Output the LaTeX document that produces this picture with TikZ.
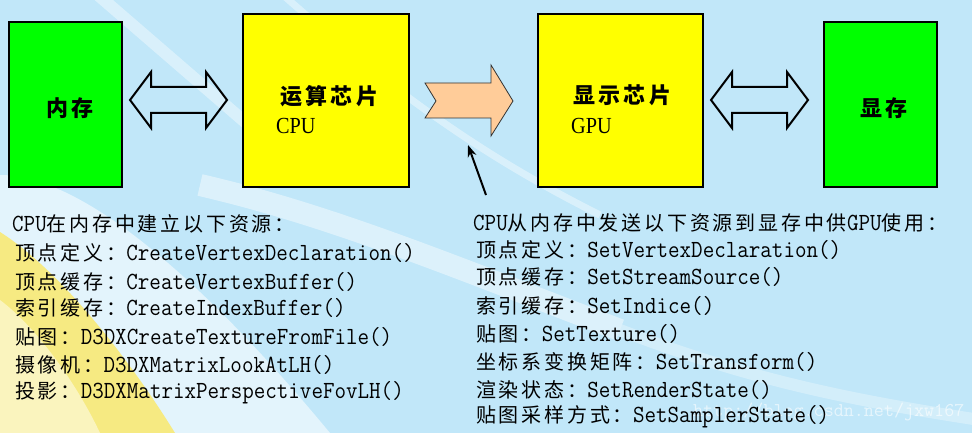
\documentclass[tikz,border=0pt]{standalone}
\usepackage{fontspec}
\usepackage{graphicx}
\newfontfamily\cjkbox{Noto Sans CJK SC}[LetterSpace=15]
\newfontfamily\cjkline{Noto Sans CJK SC}[LetterSpace=14]
\newfontfamily\latserif{Liberation Serif}
\usetikzlibrary{calc,arrows.meta}
\definecolor{bgblue}{RGB}{193,231,249}
\definecolor{boxgreen}{RGB}{0,255,0}
\definecolor{boxyellow}{RGB}{255,255,0}
\definecolor{peach}{RGB}{255,204,153}
\definecolor{bandyellow}{RGB}{246,234,130}
\definecolor{paleyellow}{RGB}{250,244,190}
\newcommand\Cj[1]{{\cjkline\fontsize{20}{24}\selectfont #1}}
\newcommand\Mo[1]{\scalebox{1}[1.1]{\ttfamily\fontsize{22.4}{26}\selectfont #1}}
\newcommand\Bx[1]{{\cjkbox\bfseries\fontsize{22}{26}\selectfont #1}}
\newcommand\La[1]{\scalebox{0.88}[1]{\latserif\fontsize{23}{26}\selectfont #1}}
\begin{document}
\begin{tikzpicture}[x=1pt,y=-1pt,
  chip/.style={draw=black, line width=1.2pt, inner sep=0pt, fill=#1},
  lbl/.style={anchor=west, inner sep=0pt, text=black},
  dbl/.style={draw=black, line width=2pt, line join=miter},
  flow/.style={draw=black!80, line width=0.8pt, fill=peach, line join=miter},
  ptr/.style={draw=black, line width=2pt, -{Stealth[length=12pt,width=9pt]}},
  ln/.style={anchor=west, inner sep=0pt, text=black},
  wmark/.style={anchor=west, inner sep=0pt, text=white, text opacity=0.6}]
\useasboundingbox (0,0) rectangle (972,433);
% background
\fill[bgblue] (0,0) rectangle (972,433);
\draw[white, opacity=0.4, line width=12pt] (98,-5) -- (260,135);
\draw[white, opacity=0.4, line width=7pt] (283,-5) .. controls (380,80) and (470,150) .. (600,215);
\fill[white, opacity=0.55] (0,175) .. controls (90,175) and (220,300) .. (330,433) -- (0,433) -- cycle;
\draw[white, opacity=0.45, line width=22pt] (200,185) .. controls (330,215) and (450,265) .. (620,330);
\draw[white, opacity=0.3, line width=12pt] (620,330) .. controls (750,380) and (850,400) .. (980,420);
\fill[bandyellow] (0,232) .. controls (60,270) and (130,360) .. (175,433) -- (0,433) -- cycle;
\fill[paleyellow] (0,300) .. controls (40,330) and (80,390) .. (100,433) -- (0,433) -- cycle;

% boxes
\node[chip=boxgreen, minimum width=113pt, minimum height=165pt] (mem) at (65.5,104.5) {};
\node[chip=boxyellow, minimum width=166pt, minimum height=173pt] (cpu) at (326,100.5) {};
\node[chip=boxyellow, minimum width=165pt, minimum height=173pt] (gpu) at (620.5,100.5) {};
\node[chip=boxgreen, minimum width=113pt, minimum height=165pt] (vmem) at (880.5,104.5) {};

\node[lbl] (memlbl) at (46,108) {\Bx{内存}};
\node[lbl] (cpulbl) at (280,96) {\Bx{运算芯片}};
\node[lbl] (cpuen) at (276,126) {\La{CPU}};
\node[lbl] (gpulbl) at (573,95) {\Bx{显示芯片}};
\node[lbl] (gpuen) at (571,126) {\La{GPU}};
\node[lbl] (vmemlbl) at (860,108) {\Bx{显存}};

% double arrows
\coordinate (da1) at (178.5,100);
\coordinate (da2) at (759.5,100);
\foreach \c in {da1,da2}{
  \draw[dbl] ($(\c)+(-48.5,0)$) -- ++(21,-28) -- ++(0,15) -- ++(55,0) -- ++(0,-15)
    -- ++(21,28) -- ++(-21,28) -- ++(0,-15) -- ++(-55,0) -- ++(0,15) -- cycle;
}
% transfer arrow
\coordinate (oa) at (469,101);
\draw[flow] ($(oa)+(-44,-18)$) -- ++(66,0) -- ++(0,-18) -- ++(22,36) -- ++(-22,35)
  -- ++(0,-18) -- ++(-66,0) -- ++(11,-17) -- cycle;
% pointer
\coordinate (ptail) at (486,195);
\coordinate (ptip) at (468,145);
\draw[ptr] (ptail) -- (ptip);

% watermark
\node[wmark] (wm) at (693,412) {\ttfamily\fontsize{19.5}{22}\selectfont http://blog.csdn.net/jxw167};

% left list
\node[ln] (l0) at (12,224) {\Mo{CPU}\Cj{在内存中建立以下资源：}};
\node[ln] (l1) at (15,253) {\Cj{顶点定义：}\Mo{CreateVertexDeclaration()}};
\node[ln] (l2) at (15,282) {\Cj{顶点缓存：}\Mo{CreateVertexBuffer()}};
\node[ln] (l3) at (15,308) {\Cj{索引缓存：}\Mo{CreateIndexBuffer()}};
\node[ln] (l4) at (15,337) {\Cj{贴图：}\Mo{D3DXCreateTextureFromFile()}};
\node[ln] (l5) at (15,365) {\Cj{摄像机：}\Mo{D3DXMatrixLookAtLH()}};
\node[ln] (l6) at (15,393) {\Cj{投影：}\Mo{D3DXMatrixPerspectiveFovLH()}};

% right list
\node[ln] (r0) at (473,223) {\Mo{CPU}\Cj{从内存中发送以下资源到显存中供}\Mo{GPU}\Cj{使用：}};
\node[ln] (r1) at (476,250) {\Cj{顶点定义：}\Mo{SetVertexDeclaration()}};
\node[ln] (r2) at (476,277) {\Cj{顶点缓存：}\Mo{SetStreamSource()}};
\node[ln] (r3) at (476,306) {\Cj{索引缓存：}\Mo{SetIndice()}};
\node[ln] (r4) at (476,334) {\Cj{贴图：}\Mo{SetTexture()}};
\node[ln] (r5) at (476,362) {\Cj{坐标系变换矩阵：}\Mo{SetTransform()}};
\node[ln] (r6) at (476,390) {\Cj{渲染状态：}\Mo{SetRenderState()}};
\node[ln] (r7) at (476,417) {\Cj{贴图采样方式：}\Mo{SetSamplerState()}};
\end{tikzpicture}
\end{document}
